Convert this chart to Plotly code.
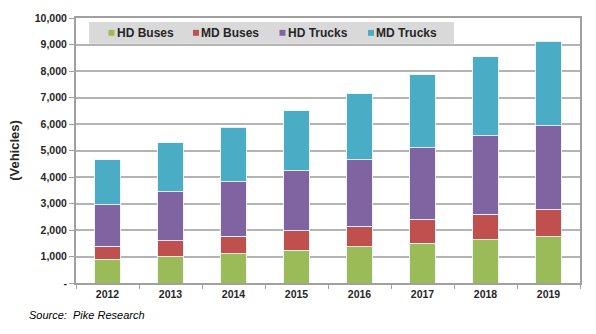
import plotly.graph_objects as go

years = ["2012", "2013", "2014", "2015", "2016", "2017", "2018", "2019"]
hd_buses = [895, 1000, 1110, 1240, 1370, 1500, 1640, 1750]
md_buses = [495, 600, 660, 740, 780, 880, 960, 1010]
hd_trucks = [1560, 1840, 2050, 2250, 2510, 2730, 2960, 3170]
md_trucks = [1710, 1860, 2050, 2270, 2490, 2750, 2970, 3190]

series_names = ["HD Buses", "MD Buses", "HD Trucks", "MD Trucks"]
series_values = [hd_buses, md_buses, hd_trucks, md_trucks]
colors = ["#9BBB59", "#C0504D", "#8064A2", "#4BACC6"]

y_tickvals = [0, 1000, 2000, 3000, 4000, 5000, 6000, 7000, 8000, 9000, 10000]
y_ticktext = ["-", "1,000", "2,000", "3,000", "4,000", "5,000", "6,000",
              "7,000", "8,000", "9,000", "10,000"]

font_family = "Liberation Sans, Arial, sans-serif"
text_color = "#262626"

# plot area in pixels (for placing the custom legend)
L, R, T, B = 76, 16, 15, 51
W, H = 596, 334
PW, PH = W - L - R, H - T - B


def px_x(px):
    return (px - L) / PW


def px_y(py):
    return (H - B - py) / PH


fig = go.Figure()
for name, vals, col in zip(series_names, series_values, colors):
    fig.add_trace(go.Bar(
        x=years, y=vals, name=name,
        marker=dict(color=col, line=dict(color="rgba(235,245,250,0.9)", width=1)),
        showlegend=False,
    ))

shapes = [dict(
    type="rect", xref="paper", yref="paper",
    x0=px_x(89), x1=px_x(454), y0=px_y(41), y1=px_y(19),
    fillcolor="#D9D9D9", line=dict(width=0), layer="above",
)]
annotations = []
legend_sq_x = [108.5, 193, 279.5, 368]
for name, col, sx in zip(series_names, colors, legend_sq_x):
    shapes.append(dict(
        type="rect", xref="paper", yref="paper",
        x0=px_x(sx), x1=px_x(sx + 6), y0=px_y(33), y1=px_y(27),
        fillcolor=col, line=dict(width=0), layer="above",
    ))
    annotations.append(dict(
        text=name, xref="paper", yref="paper",
        x=px_x(sx + 7), y=px_y(30), xanchor="left", yanchor="middle",
        showarrow=False, borderpad=0,
        font=dict(size=12, weight="bold", color=text_color),
    ))

annotations.append(dict(
    text="Source:  Pike Research",
    xref="paper", yref="paper",
    x=px_x(27), y=px_y(315), xanchor="left", yanchor="middle",
    showarrow=False,
    font=dict(size=11, style="italic", color="#000000"),
))

fig.update_layout(
    width=W, height=H,
    barmode="stack",
    bargap=0.6,
    plot_bgcolor="white",
    paper_bgcolor="white",
    margin=dict(l=L, r=R, t=T, b=B),
    font=dict(family=font_family, color=text_color, size=11),
    showlegend=False,
    xaxis=dict(
        type="category",
        showline=True, linecolor="#A0A0A0", linewidth=2,
        mirror=True,
        ticks="outside", tickson="boundaries", ticklen=4, tickcolor="#A0A0A0",
        tickfont=dict(size=10.5, weight="bold", color=text_color),
        showgrid=False,
    ),
    yaxis=dict(
        range=[0, 10000],
        tickvals=y_tickvals, ticktext=y_ticktext,
        showline=True, linecolor="#A0A0A0", linewidth=2,
        mirror=True,
        ticks="outside", ticklen=5, tickcolor="#A0A0A0",
        tickfont=dict(size=10.5, weight="bold", color=text_color),
        gridcolor="#B4B4B4", gridwidth=1.5,
        title=dict(text="(Vehicles)", font=dict(size=13, weight="bold", color=text_color), standoff=12),
    ),
    shapes=shapes,
    annotations=annotations,
)

fig.write_html("out.html")
